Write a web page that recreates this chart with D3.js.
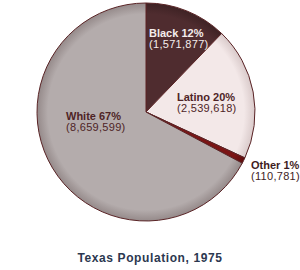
<!DOCTYPE html>
<meta charset="utf-8" />
<html>
<head>
<script src="https://d3js.org/d3.v7.min.js"></script>
<style>
  body { margin: 0; background: #fff; }
  text { font-family: Arial, "Liberation Sans", sans-serif; }
</style>
</head>
<body>
<svg width="300" height="270"></svg>
<script>
// data
var groups = ["Black", "Latino", "Other", "White"];
var population = [1571877, 2539618, 110781, 8659599];
var percents = [12, 20, 1, 67];
var fills = ["#4f2c2f", "#f3e8e8", "#7b1414", "#b4acac"];
var edges = ["#3e2224", "#d9caca", "#5e0c0c", "#958a8a"];
var title = "Texas Population, 1975";

var svg = d3.select("svg");
var cx = 146, cy = 112, r = 109;

// radial gradients in the slice group's own coordinates (centre = 0,0)
var defs = svg.append("defs");
groups.forEach(function(g, i) {
    var grad = defs.append("radialGradient")
        .attr("id", "grad" + i)
        .attr("gradientUnits", "userSpaceOnUse")
        .attr("cx", 0).attr("cy", 0).attr("r", r)
        .attr("fx", 0).attr("fy", 0);
    grad.append("stop").attr("offset", "0.9").attr("stop-color", fills[i]);
    grad.append("stop").attr("offset", "1").attr("stop-color", edges[i]);
});

var data = groups.map(function(g, i) {
    return { name: g, value: population[i], pct: percents[i], i: i };
});

var pie = d3.pie().sort(null).value(function(d) { return d.value; });
var arc = d3.arc().innerRadius(0).outerRadius(r);

var g = svg.append("g").attr("transform", "translate(" + cx + "," + cy + ")");

g.selectAll("path").data(pie(data)).enter().append("path")
    .attr("d", arc)
    .attr("fill", function(d) { return "url(#grad" + d.data.i + ")"; })
    .attr("stroke", "#5a2426")
    .attr("stroke-width", 1);

// labels (positions relative to pie center)
var labelPos = [[3, -75], [31, -11], [105, 57], [-80, 8]];
var labelColor = ["#f4ecec", "#4e2426", "#3e1c1e", "#4e2426"];
var fmt = d3.format(",");

data.forEach(function(d, i) {
    var t = g.append("text")
        .attr("x", labelPos[i][0])
        .attr("y", labelPos[i][1])
        .attr("fill", labelColor[i])
        .style("font-size", "11px");
    t.append("tspan").attr("font-weight", "bold")
        .text(d.name + " " + d.pct + "%");
    t.append("tspan").attr("x", labelPos[i][0]).attr("dy", 10.5)
        .style("letter-spacing", "0.3px")
        .text("(" + fmt(d.value) + ")");
});

svg.append("text")
    .attr("x", 150).attr("y", 262)
    .attr("text-anchor", "middle")
    .attr("fill", "#2b3850")
    .attr("font-weight", "bold")
    .style("font-size", "12px")
    .style("letter-spacing", "0.6px")
    .text(title);
</script>
</body>
</html>
